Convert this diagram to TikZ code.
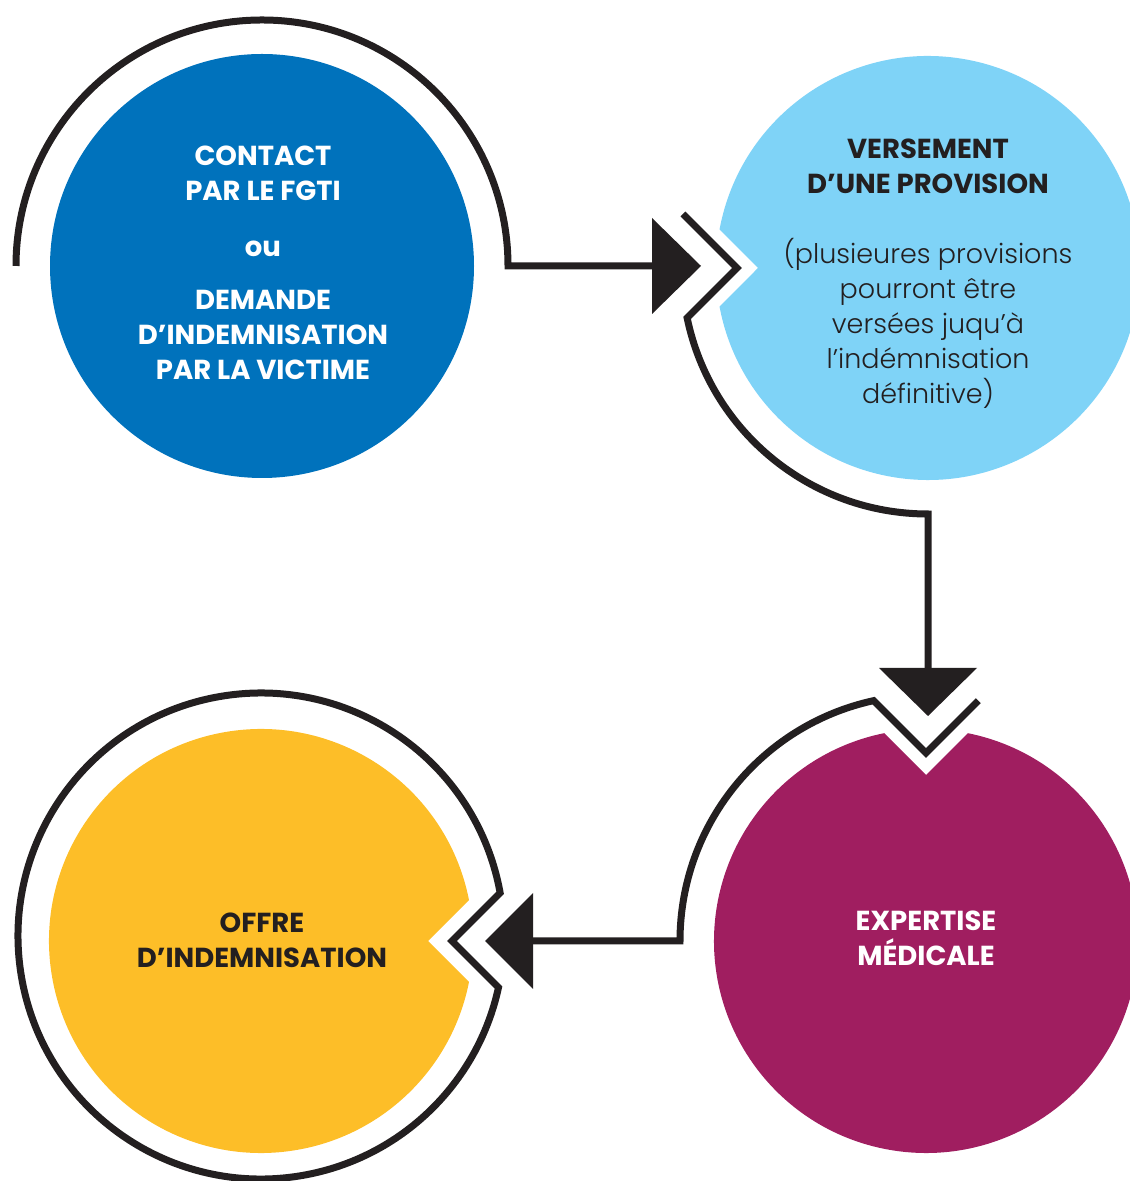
\documentclass[tikz,border=0pt]{standalone}
\usepackage{fontspec}
\setmainfont{Poppins}
\IfFontExistsTF{Poppins Light}{\newfontfamily\bodyfont{Poppins Light}}{\newfontfamily\bodyfont{Poppins}}
\usetikzlibrary{calc}
\definecolor{cblue}{RGB}{0,114,188}
\definecolor{clight}{RGB}{127,211,247}
\definecolor{cmag}{RGB}{160,30,96}
\definecolor{cyel}{RGB}{253,190,40}
\definecolor{cdark}{RGB}{35,31,32}
\begin{document}
\begin{tikzpicture}[x=1pt,y=1pt,
  ring/.style={draw=cdark,line width=7pt,line join=miter,line cap=butt},
  head/.style={fill=cdark},
  label/.style={align=center,font=\fontsize{27.5}{35}\selectfont\bfseries}]
\newcommand\bodytext[1]{{\bodyfont\mdseries\fontsize{27}{35}\selectfont #1}}
\useasboundingbox (0,0) rectangle (1130,1181);
% centres
\coordinate (c1) at (262,915);
\coordinate (c2) at (928,913);
\coordinate (c3) at (926,240);
\coordinate (c4) at (261,240);
% discs
\fill[cblue] (c1) circle (212pt);
\fill[clight] (758,913) -- ($(c2)+(169.54:212pt)$) arc[start angle=169.54,end angle=-169.54,radius=212pt] -- cycle;
\fill[cmag] (926,406) -- ($(c3)+(78.62:212pt)$) arc[start angle=78.62,end angle=-258.62,radius=212pt] -- cycle;
\fill[cyel] (428,240) -- ($(c4)+(11.15:212pt)$) arc[start angle=11.15,end angle=348.85,radius=212pt] -- cycle;
% rings and connectors
\coordinate (a1) at (652,915);
\coordinate (a2) at (928,513);
\coordinate (a3) at (533,240);
\draw[ring] ($(c1)+(180:246pt)$) arc[start angle=180,end angle=0,radius=246pt] -- (a1);
\draw[ring] (683,967) -- (737,913) -- ($(c2)+(191.7:246pt)$) arc[start angle=191.7,end angle=270,radius=246pt] -- (a2);
\draw[ring] (978.36,480.36) -- (926,428) -- ($(c3)+(102.29:246pt)$) arc[start angle=102.29,end angle=180,radius=246pt] -- (a3);
\draw[ring] (452,240) -- (500.14,288.14) arc[start angle=10.23,end angle=347.77,radius=243pt] -- cycle;
% arrow heads
\fill[head] ($(a1)+(0,48)$) -- ($(a1)+(49,0)$) -- ($(a1)+(0,-48)$) -- cycle;
\fill[head] ($(a2)+(-49,0)$) -- ($(a2)+(0,-48)$) -- ($(a2)+(49,0)$) -- cycle;
\fill[head] ($(a3)+(0,48)$) -- ($(a3)+(-48,0)$) -- ($(a3)+(0,-48)$) -- cycle;
% texts
\node[label,text=white] (t1) at (263,918) {CONTACT\\PAR LE FGTI\\[21pt]ou\\[18pt]DEMANDE\\D’INDEMNISATION\\PAR LA VICTIME};
\node[label,text=cdark] (t2) at (928,907) {VERSEMENT\\D’UNE PROVISION\\[35pt]\bodytext{(plusieures provisions}\\\bodytext{pourront être}\\\bodytext{versées juqu’à}\\\bodytext{l’indémnisation}\\\bodytext{définitive)}};
\node[label,text=white] (t3) at (926,243) {EXPERTISE\\MÉDICALE};
\node[label,text=cdark] (t4) at (262,241) {OFFRE\\D’INDEMNISATION};
\end{tikzpicture}
\end{document}
